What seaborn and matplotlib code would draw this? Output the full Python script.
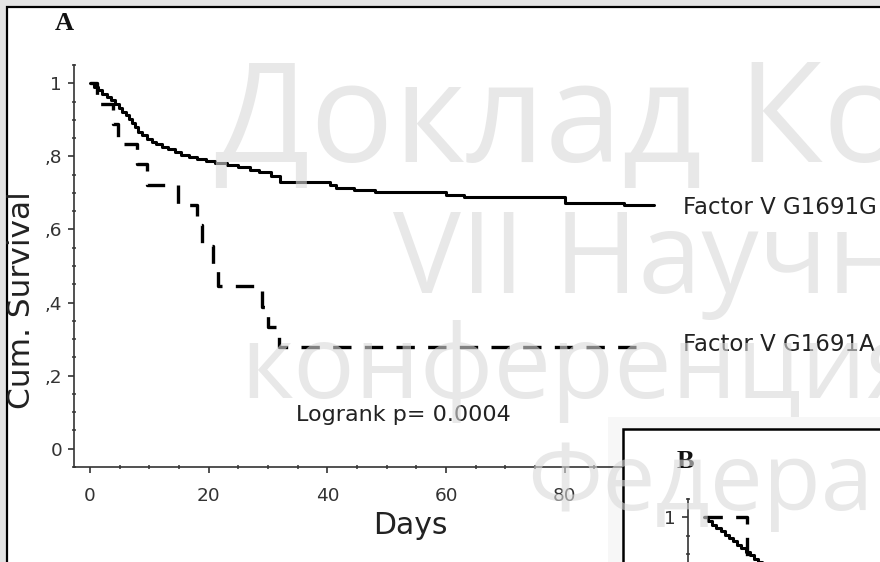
import matplotlib
matplotlib.use('Agg')
import matplotlib.pyplot as plt
from matplotlib.patches import Rectangle
from matplotlib.ticker import MultipleLocator
import pandas as pd
import seaborn as sns

# ---------------- data ----------------
# Panel A: Factor V G1691G (solid)
days_g = [0, 0.7, 1.4, 2.1, 2.8, 3.5, 4.2, 4.8, 5.4, 6.0, 6.6, 7.1, 7.6, 8.1, 8.8,
          9.6, 10.4, 11.2, 12.2, 13.2, 14.3, 15.4, 16.6, 18.0, 19.5, 21.0, 23.0,
          25.0, 27.0, 28.5, 30.5, 32.0, 40.5, 41.5, 44.5, 48.0, 60.0, 63.0, 80.0,
          90.0, 95.0]
surv_g = [1.0, .99, .981, .972, .963, .954, .943, .932, .922, .912, .902, .892,
          .88, .868, .858, .848, .84, .833, .826, .819, .812, .805, .798, .792,
          .787, .781, .776, .77, .764, .757, .745, .73, .721, .713, .708, .702,
          .695, .689, .673, .668, .668]
# Panel A: Factor V G1691A (dashed)
days_a = [0, 1.2, 3.9, 4.7, 7.9, 9.6, 14.8, 18.0, 18.9, 20.7, 21.6, 29.0, 30.0,
          31.9, 94.0]
surv_a = [1.0, .944, .889, .833, .778, .722, .667, .611, .556, .5, .444, .389,
          .333, .278, .278]
# Panel B (only its top-left corner is visible)
days_b_g = [0, 0.7, 1.4, 2.1, 2.8, 3.5, 4.2, 4.9, 5.6, 6.3, 7.0, 7.7, 8.4, 9.1,
            9.8, 10.5, 11.2, 12.0]
surv_b_g = [1.0, .99, .98, .971, .962, .952, .943, .934, .924, .915, .906, .896,
            .887, .878, .868, .858, .848, .84]
days_b_a = [0, 7.3, 12.0]
surv_b_a = [1.0, .833, .833]

x_ticks = [0, 20, 40, 60, 80]
y_ticks = [0, .2, .4, .6, .8, 1]
y_tick_labels = ['0', ',2', ',4', ',6', ',8', '1']
label_g = 'Factor V G1691G'
label_a = 'Factor V G1691A'
logrank = 'Logrank p= 0.0004'
watermark = [('Доклад Ко', 215, 162, 100), ('VII Научн', 393, 293, 82),
             ('конференция', 240, 398, 74), ('Федера', 527, 510, 68)]

# ---------------- figure ----------------
sns.set_theme(style='white')
plt.rcParams['font.family'] = ['DejaVu Sans']

W, H = 880, 562
fig = plt.figure(figsize=(W / 100, H / 100), dpi=100)
fig.patch.set_facecolor('#e3e3e3')


def fx(px):
    return px / W


def fy(py):
    return 1 - py / H


# outer white frame
fig.add_artist(Rectangle((fx(7), -0.1), 1.0, fy(7) + 0.1, transform=fig.transFigure,
                         facecolor='white', edgecolor='black', lw=1.6, zorder=-2))
# faint glow around inset panel
fig.add_artist(Rectangle((fx(608), -0.1), 1.0, fy(417) + 0.1, transform=fig.transFigure,
                         facecolor='#f7f7f7', edgecolor='none', zorder=-1))

ax_w = (683.5 - 74) / W
ax_h = (467 - 65) / H
ax = fig.add_axes([fx(74), fy(467), ax_w, ax_h])
ax.patch.set_alpha(0)


def style_axes(a, ylabels):
    a.set_xlim(-2.7, 100)
    a.set_ylim(-0.05, 1.05)
    for s in ['top', 'right']:
        a.spines[s].set_visible(False)
    for s in ['left', 'bottom']:
        a.spines[s].set_color('#333333')
        a.spines[s].set_linewidth(1.2)
    a.set_xticks(x_ticks)
    a.set_yticks(y_ticks)
    a.set_yticklabels(ylabels)
    a.xaxis.set_minor_locator(MultipleLocator(5))
    a.yaxis.set_minor_locator(MultipleLocator(0.05))
    a.tick_params(which='major', direction='out', length=4.5, width=1.2,
                  color='#333333', labelsize=13.3, labelcolor='#333333')
    a.tick_params(axis='x', which='major', pad=10)
    a.tick_params(axis='y', which='major', pad=4)
    a.tick_params(which='minor', direction='inout', length=3, width=1.2,
                  color='#444444')
    a.tick_params(bottom=True, left=True, which='both')


df_g = pd.DataFrame({'Days': days_g, 'Survival': surv_g})
df_a = pd.DataFrame({'Days': days_a, 'Survival': surv_a})
sns.lineplot(data=df_g, x='Days', y='Survival', drawstyle='steps-post', color='black',
             lw=2.2, errorbar=None, ax=ax)
sns.lineplot(data=df_a, x='Days', y='Survival', drawstyle='steps-post', color='black',
             lw=2.4, linestyle=(0, (5.5, 4)), errorbar=None, ax=ax)
style_axes(ax, y_tick_labels)
ax.set_xlabel('Days', fontsize=21.5, color='#222222')
ax.set_ylabel('Cum. Survival', fontsize=22.5, color='#222222')
ax.xaxis.label.set_va('center')
ax.yaxis.label.set_va('center')
ax.xaxis.set_label_coords((410 - 74) / 609.5, (467 - 525) / 402)
ax.yaxis.set_label_coords((22 - 74) / 609.5, (467 - 300) / 402)

ax.text(99.9, .661, label_g, fontsize=16.5, color='#222222', va='center', ha='left')
ax.text(99.9, .284, label_a, fontsize=16.5, color='#222222', va='center', ha='left')
ax.text(34.7, .093, logrank, fontsize=16, color='#222222', va='center', ha='left')

fig.text(fx(64), fy(24), 'A', family='Liberation Serif', weight='bold', fontsize=19,
         ha='center', va='center', color='#111111', zorder=3)

# ---------------- inset panel B ----------------
fig.add_artist(Rectangle((fx(623), -0.1), 1.0, fy(429) + 0.1, transform=fig.transFigure,
                         facecolor='white', edgecolor='black', lw=1.8, zorder=1))
axb = fig.add_axes([fx(688), fy(901), ax_w, ax_h], zorder=2)
axb.patch.set_alpha(0)
df_bg = pd.DataFrame({'Days': days_b_g, 'Survival': surv_b_g})
df_ba = pd.DataFrame({'Days': days_b_a, 'Survival': surv_b_a})
sns.lineplot(data=df_bg, x='Days', y='Survival', drawstyle='steps-post', color='black',
             lw=2.2, errorbar=None, ax=axb)
sns.lineplot(data=df_ba, x='Days', y='Survival', drawstyle='steps-post', color='black',
             lw=2.4, linestyle=(0, (5.5, 4)), errorbar=None, ax=axb)
# only the top tick label of panel B lies inside the picture
style_axes(axb, [''] * (len(y_ticks) - 1) + [y_tick_labels[-1]])
axb.set_xticklabels([])
axb.set_xlabel('')
axb.set_ylabel('')
fig.text(fx(685), fy(462), 'B', family='Liberation Serif', weight='bold', fontsize=19,
         ha='center', va='center', color='#111111', zorder=3)

# ---------------- watermark overlay ----------------
for txt, px, py, size in watermark:
    fig.text(fx(px), fy(py), txt, family=['Open Sans', 'DejaVu Sans'], fontsize=size,
             color=(0.85, 0.85, 0.85), alpha=0.6, ha='left', va='baseline', zorder=10)

fig.savefig('out.png', dpi=100)
